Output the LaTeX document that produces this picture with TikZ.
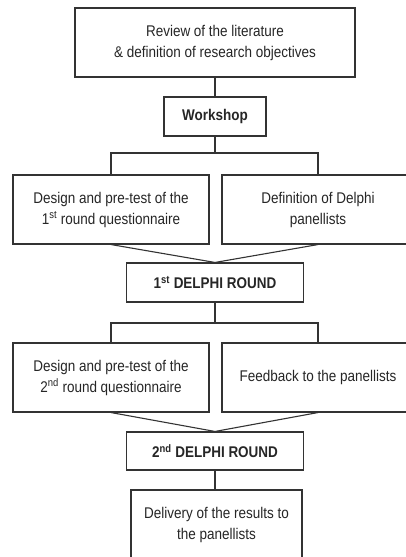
\documentclass[tikz,border=0pt]{standalone}
\usepackage{fontspec}
\setmainfont[FakeStretch=0.87]{Liberation Sans}
\begin{document}
\begin{tikzpicture}[x=1pt,y=-1pt,
  box/.style={draw=black!80, line width=1.1pt, fill=white, text=black!85, align=center,
    inner sep=0pt, font=\fontsize{15.5}{21}\selectfont},
  bbox/.style={box, font=\fontsize{15.5}{21}\selectfont\bfseries},
  conn/.style={draw=black!80, line width=1.1pt}]
\useasboundingbox (0,0) rectangle (406,557);
\clip (0,0) rectangle (406,557);
\fill[white] (0,0) rectangle (406,557);
\node[box, minimum width=280pt, minimum height=69pt] (rev) at (215,42.5)
  {Review of the literature\\\& definition of research objectives};
\node[bbox, minimum width=102pt, minimum height=39pt] (ws) at (215,116.5) {Workshop};
\node[box, minimum width=196pt, minimum height=69pt] (d1) at (111,209.5)
  {Design and pre-test of the\\1\textsuperscript{st} round questionnaire};
\node[box, minimum width=192pt, minimum height=69pt] (p1) at (318,209.5)
  {Definition of Delphi\\panellists};
\node[bbox, minimum width=177pt, minimum height=39pt] (r1) at (215,282.5)
  {1\textsuperscript{st} DELPHI ROUND};
\node[box, minimum width=196pt, minimum height=69pt] (d2) at (111,377.5)
  {Design and pre-test of the\\2\textsuperscript{nd} round questionnaire};
\node[box, minimum width=192pt, minimum height=69pt] (p2) at (318,377.5)
  {Feedback to the panellists};
\node[bbox, minimum width=177pt, minimum height=38pt] (r2) at (215,451)
  {2\textsuperscript{nd} DELPHI ROUND};
\node[box, minimum width=171pt, minimum height=69pt] (del) at (216.5,524.5)
  {Delivery of the results to\\the panellists};
\coordinate (j1) at (215,153);
\coordinate (j2) at (215,323);
\draw[conn] (rev.south) -- (ws.north);
\draw[conn] (ws.south) -- (j1);
\draw[conn] (d1.north) |- (j1) -| (p1.north);
\draw[conn] (d1.south) -- (r1.north) -- (p1.south);
\draw[conn] (r1.south) -- (j2);
\draw[conn] (d2.north) |- (j2) -| (p2.north);
\draw[conn] (d2.south) -- (r2.north) -- (p2.south);
\draw[conn] (r2.south) -- (r2.south |- del.north);
\end{tikzpicture}
\end{document}
